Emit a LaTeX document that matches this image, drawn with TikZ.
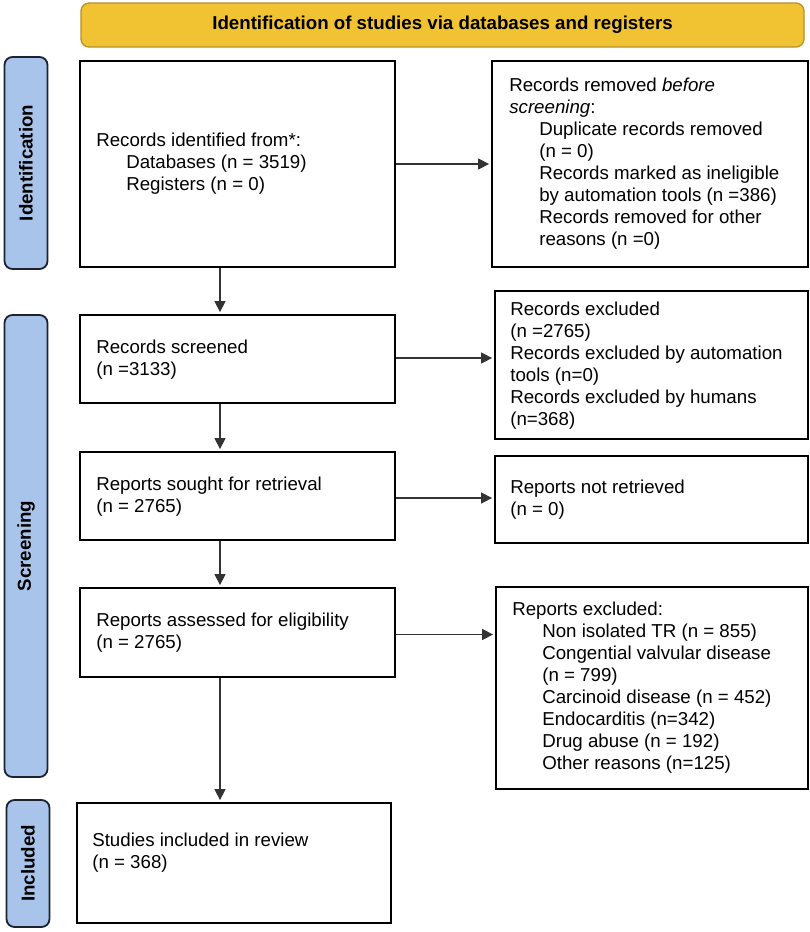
\documentclass[tikz,border=0pt]{standalone}
\usepackage{fontspec}
\setmainfont{Liberation Sans}
\usetikzlibrary{arrows.meta}
\definecolor{gold}{HTML}{F1C232}
\definecolor{goldline}{HTML}{B8902C}
\definecolor{barblue}{HTML}{A9C4EA}
\definecolor{barline}{HTML}{1E2230}
\definecolor{arrowgray}{HTML}{333333}
\newcommand\boxfont{\fontsize{18.7}{22}\selectfont}
\newcommand\ind{\hspace*{30pt}}
\tikzset{
  box/.style={draw=black, line width=1.8pt, fill=white, rectangle, inner sep=0pt},
  boxtext/.style={anchor=west, inner sep=0pt, align=left, font=\boxfont},
  sidebar/.style={draw=barline, fill=barblue, line width=1.8pt, rounded corners=8pt, rotate=90, minimum height=43pt, inner sep=0pt, font=\bfseries\boxfont},
  flow/.style={draw=arrowgray, line width=1.4pt, -{Triangle[length=11pt,width=11pt]}, shorten >=2pt},
}
\begin{document}
\begin{tikzpicture}[x=1pt,y=-1pt]
\useasboundingbox (0,0) rectangle (810,932);

% header
\node[draw=goldline, fill=gold, line width=1.3pt, rounded corners=8pt, minimum width=723pt, minimum height=44pt, font=\bfseries\boxfont] (head) at (442.5,25) {Identification of studies via databases and registers};

% side bars
\node[sidebar, minimum width=212pt] (sb1) at (26,163) {Identification};
\node[sidebar, minimum width=462pt] (sb2) at (26,546) {Screening};
\node[sidebar, minimum width=127pt] (sb3) at (28,863.5) {Included};

% left column
\node[box, minimum width=315pt, minimum height=206pt] (b1) at (237.5,164) {};
\node[boxtext] (t1) at ([xshift=17pt]b1.west)
  {Records identified from*:\\ \ind Databases (n = 3519)\\ \ind Registers (n = 0)};
\node[box, minimum width=315pt, minimum height=88pt] (b2) at (237.5,359) {};
\node[boxtext] (t2) at ([xshift=17pt,yshift=-1pt]b2.west)
  {Records screened\\(n =3133)};
\node[box, minimum width=315pt, minimum height=88pt] (b3) at (237.5,496) {};
\node[boxtext] (t3) at ([xshift=17pt,yshift=-1pt]b3.west)
  {Reports sought for retrieval\\(n = 2765)};
\node[box, minimum width=315pt, minimum height=89pt] (b4) at (237.5,632.5) {};
\node[boxtext] (t4) at ([xshift=17pt]b4.west)
  {Reports assessed for eligibility\\(n = 2765)};
\node[box, minimum width=314pt, minimum height=120pt] (b5) at (234,863) {};
\node[boxtext] (t5) at ([xshift=16pt,yshift=10pt]b5.west)
  {Studies included in review\\(n = 368)};

% right column
\node[box, minimum width=316pt, minimum height=206pt] (r1) at (650,164) {};
\node[boxtext] (u1) at ([xshift=18pt]r1.west)
  {Records removed \textit{before}\\ \textit{screening}:\\ \ind Duplicate records removed\\ \ind (n = 0)\\ \ind Records marked as ineligible\\ \ind by automation tools (n =386)\\ \ind Records removed for other\\ \ind reasons (n =0)};
\node[box, minimum width=313pt, minimum height=148pt] (r2) at (651.5,365) {};
\node[boxtext] (u2) at ([xshift=16pt,yshift=-1pt]r2.west)
  {Records excluded\\(n =2765)\\Records excluded by automation\\tools (n=0)\\Records excluded by humans\\(n=368)};
\node[box, minimum width=313pt, minimum height=87pt] (r3) at (651.5,499.5) {};
\node[boxtext] (u3) at ([xshift=16pt]r3.west)
  {Reports not retrieved\\(n = 0)};
\node[box, minimum width=312pt, minimum height=202pt] (r4) at (652,688) {};
\node[boxtext] (u4) at ([xshift=17pt]r4.west)
  {Reports excluded:\\ \ind Non isolated TR (n = 855)\\ \ind Congential valvular disease\\ \ind (n = 799)\\ \ind Carcinoid disease (n = 452)\\ \ind Endocarditis (n=342)\\ \ind Drug abuse (n = 192)\\ \ind Other reasons (n=125)};

% connectors
\draw[flow] (b1.east) -- (b1.east -| r1.west);
\draw[flow] ([yshift=1pt]b2.east) -- ([yshift=1pt]b2.east -| r2.west);
\draw[flow] ([yshift=-2pt]b3.east) -- ([yshift=-2pt]b3.east -| r3.west);
\draw[flow] ([yshift=-2pt]b4.east) -- ([yshift=-2pt]b4.east -| r4.west);
\draw[flow] ([xshift=-17.5pt]b1.south) -- ([xshift=-17.5pt]b2.north);
\draw[flow] ([xshift=-17.5pt]b2.south) -- ([xshift=-17.5pt]b3.north);
\draw[flow] ([xshift=-17.5pt]b3.south) -- ([xshift=-17.5pt]b4.north);
\draw[flow] ([xshift=-17.5pt]b4.south) -- ([xshift=-17.5pt]b4.south |- b5.north);
\end{tikzpicture}
\end{document}
